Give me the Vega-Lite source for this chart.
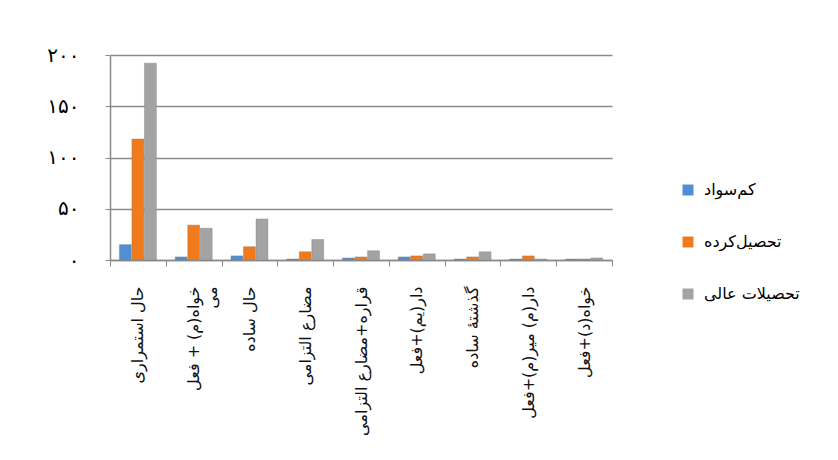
{
  "$schema": "https://vega.github.io/schema/vega-lite/v6.json",
  "autosize": {"type": "none"},
  "padding": {"left": 110, "top": 55, "right": 226, "bottom": 200},
  "width": 502,
  "height": 205,
  "background": "white",
  "data": {
    "values": [
      {"tense": "حال استمراری", "group": "کم‌سواد", "count": 15},
      {"tense": "حال استمراری", "group": "تحصیل‌کرده", "count": 118},
      {"tense": "حال استمراری", "group": "تحصیلات عالی", "count": 192},
      {"tense": "می خواه(م) + فعل", "group": "کم‌سواد", "count": 3},
      {"tense": "می خواه(م) + فعل", "group": "تحصیل‌کرده", "count": 34},
      {"tense": "می خواه(م) + فعل", "group": "تحصیلات عالی", "count": 31},
      {"tense": "حال ساده", "group": "کم‌سواد", "count": 4},
      {"tense": "حال ساده", "group": "تحصیل‌کرده", "count": 13},
      {"tense": "حال ساده", "group": "تحصیلات عالی", "count": 40},
      {"tense": "مضارع التزامی", "group": "کم‌سواد", "count": 1},
      {"tense": "مضارع التزامی", "group": "تحصیل‌کرده", "count": 8},
      {"tense": "مضارع التزامی", "group": "تحصیلات عالی", "count": 20},
      {"tense": "قراره+مضارع التزامی", "group": "کم‌سواد", "count": 2},
      {"tense": "قراره+مضارع التزامی", "group": "تحصیل‌کرده", "count": 3},
      {"tense": "قراره+مضارع التزامی", "group": "تحصیلات عالی", "count": 9},
      {"tense": "دار(یم)+فعل", "group": "کم‌سواد", "count": 3},
      {"tense": "دار(یم)+فعل", "group": "تحصیل‌کرده", "count": 4},
      {"tense": "دار(یم)+فعل", "group": "تحصیلات عالی", "count": 6},
      {"tense": "گذشتۀ ساده", "group": "کم‌سواد", "count": 1},
      {"tense": "گذشتۀ ساده", "group": "تحصیل‌کرده", "count": 3},
      {"tense": "گذشتۀ ساده", "group": "تحصیلات عالی", "count": 8},
      {"tense": "دار(م) میر(م)+فعل", "group": "کم‌سواد", "count": 1},
      {"tense": "دار(م) میر(م)+فعل", "group": "تحصیل‌کرده", "count": 4},
      {"tense": "دار(م) میر(م)+فعل", "group": "تحصیلات عالی", "count": 1},
      {"tense": "خواه(د)+فعل", "group": "کم‌سواد", "count": 1},
      {"tense": "خواه(د)+فعل", "group": "تحصیل‌کرده", "count": 1},
      {"tense": "خواه(د)+فعل", "group": "تحصیلات عالی", "count": 2}
    ]
  },
  "mark": {"type": "bar", "stroke": "#7f7f7f", "strokeWidth": 0.4},
  "encoding": {
    "x": {
      "field": "tense",
      "type": "nominal",
      "sort": null,
      "scale": {"paddingInner": 0, "paddingOuter": 0},
      "axis": {
        "title": null,
        "labelAngle": -90,
        "labelFont": "DejaVu Sans",
        "labelFontSize": 16,
        "labelColor": "#111",
        "labelPadding": 20,
        "labelLimit": 200,
        "labelExpr": "datum.value == 'می خواه(م) + فعل' ? ['خواه(م) + فعل', 'می'] : datum.value",
        "labelLineHeight": 18,
        "tickBand": "extent",
        "tickSize": 6,
        "tickColor": "#8a8a8a",
        "domainColor": "#8a8a8a",
        "domainWidth": 1.5
      }
    },
    "xOffset": {
      "field": "group",
      "type": "nominal",
      "sort": ["کم‌سواد", "تحصیل‌کرده", "تحصیلات عالی"],
      "scale": {"paddingInner": 0.05, "paddingOuter": 0.75}
    },
    "y": {
      "field": "count",
      "type": "quantitative",
      "scale": {"domain": [0, 200]},
      "axis": {
        "title": null,
        "values": [0, 50, 100, 150, 200],
        "labelExpr": "datum.value == 0 ? '۰' : datum.value == 50 ? '۵۰' : datum.value == 100 ? '۱۰۰' : datum.value == 150 ? '۱۵۰' : '۲۰۰'",
        "labelFont": "DejaVu Sans",
        "labelFontSize": 20,
        "labelColor": "#000",
        "labelPadding": 26,
        "tickSize": 5,
        "tickColor": "#8a8a8a",
        "domainColor": "#8a8a8a",
        "domainWidth": 1.5,
        "gridColor": "#8a8a8a",
        "gridWidth": 1.5
      }
    },
    "color": {
      "field": "group",
      "type": "nominal",
      "sort": ["کم‌سواد", "تحصیل‌کرده", "تحصیلات عالی"],
      "scale": {
        "domain": ["کم‌سواد", "تحصیل‌کرده", "تحصیلات عالی"],
        "range": ["#4f8fd6", "#f07a1c", "#a3a3a3"]
      },
      "legend": {
        "title": null,
        "orient": "none",
        "legendX": 570,
        "legendY": 127,
        "symbolType": "square",
        "symbolSize": 120,
        "symbolStrokeWidth": 0,
        "labelFont": "DejaVu Sans",
        "labelFontSize": 16,
        "labelColor": "#000",
        "rowPadding": 36,
        "labelOffset": 8
      }
    }
  },
  "config": {
    "view": {"stroke": null}
  }
}
